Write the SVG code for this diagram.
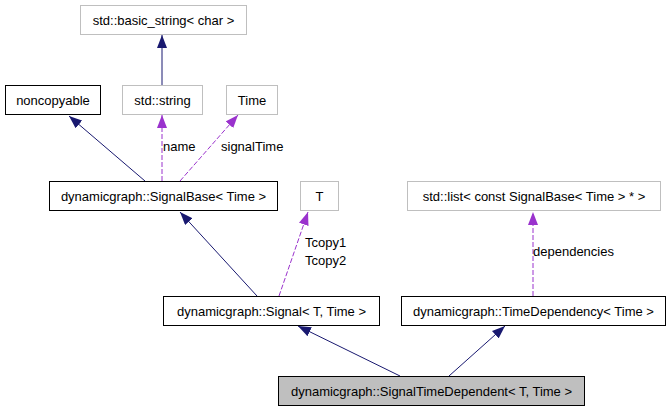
<svg xmlns="http://www.w3.org/2000/svg" width="671" height="411" viewBox="0 0 671 411">
<style>
.n rect{fill:#fff;stroke:#000;stroke-width:1}
.g rect{fill:#fff;stroke:#bfbfbf;stroke-width:1}
.h rect{fill:#bfbfbf;stroke:#000;stroke-width:1}
text{font-family:"Liberation Sans",Arial,sans-serif;font-size:13px;fill:#000}
.c{text-anchor:middle}
.inh{stroke:#191970;stroke-width:1;fill:none}
.use{stroke:#9a32cd;stroke-width:1;fill:none;stroke-dasharray:5,2}
</style>
<defs>
<marker id="ai" viewBox="0 0 13 10" refX="13" refY="5" markerWidth="13" markerHeight="10" markerUnits="userSpaceOnUse" orient="auto"><path d="M0,0L13,5L0,10z" fill="#191970"/></marker>
<marker id="au" viewBox="0 0 13 10" refX="13" refY="5" markerWidth="13" markerHeight="10" markerUnits="userSpaceOnUse" orient="auto"><path d="M0,0L13,5L0,10z" fill="#9a32cd"/></marker>
</defs>
<rect width="671" height="411" fill="#fff"/>
<g id="edges">
<line class="inh" x1="162" y1="86" x2="162" y2="35" marker-end="url(#ai)"/>
<line class="inh" x1="145" y1="181" x2="69" y2="116" marker-end="url(#ai)"/>
<line class="use" x1="162" y1="181" x2="162" y2="115" marker-end="url(#au)"/>
<line class="use" x1="180" y1="181" x2="238" y2="115" marker-end="url(#au)"/>
<line class="inh" x1="257" y1="296" x2="180" y2="212" marker-end="url(#ai)"/>
<line class="use" x1="279" y1="296" x2="308" y2="212" marker-end="url(#au)"/>
<line class="inh" x1="400" y1="376" x2="298" y2="326" marker-end="url(#ai)"/>
<line class="inh" x1="449" y1="376" x2="505" y2="326" marker-end="url(#ai)"/>
<line class="use" x1="533" y1="296" x2="533" y2="212" marker-end="url(#au)"/>
<text x="163" y="151">name</text>
<text x="221" y="151">signalTime</text>
<text x="305" y="247">Tcopy1</text>
<text x="305" y="265">Tcopy2</text>
<text x="533" y="256">dependencies</text>
</g>
<g id="basic_string" class="g"><rect x="80.5" y="5.5" width="166" height="29"/><text class="c" x="163.5" y="24.5">std::basic_string&lt; char &gt;</text></g>
<g id="noncopyable" class="n"><rect x="5.5" y="85.5" width="95" height="29"/><text class="c" x="53" y="104.5">noncopyable</text></g>
<g id="string" class="g"><rect x="122.5" y="85.5" width="80" height="29"/><text class="c" x="162.5" y="104.5">std::string</text></g>
<g id="Time" class="g"><rect x="226.5" y="85.5" width="51" height="29"/><text class="c" x="252" y="104.5">Time</text></g>
<g id="SignalBase" class="n"><rect x="49.5" y="181.5" width="228" height="29"/><text class="c" x="163.5" y="200.5">dynamicgraph::SignalBase&lt; Time &gt;</text></g>
<g id="T" class="g"><rect x="300.5" y="181.5" width="38" height="29"/><text class="c" x="319.5" y="200.5">T</text></g>
<g id="list" class="g"><rect x="407.5" y="181.5" width="253" height="29"/><text class="c" x="534" y="200.5">std::list&lt; const SignalBase&lt; Time &gt; * &gt;</text></g>
<g id="Signal" class="n"><rect x="163.5" y="296.5" width="216" height="29"/><text class="c" x="271.5" y="315.5">dynamicgraph::Signal&lt; T, Time &gt;</text></g>
<g id="TimeDependency" class="n"><rect x="401.5" y="296.5" width="264" height="29"/><text class="c" x="533.5" y="315.5">dynamicgraph::TimeDependency&lt; Time &gt;</text></g>
<g id="SignalTimeDependent" class="h"><rect x="278.5" y="376.5" width="306" height="29"/><text class="c" x="431.5" y="395.5">dynamicgraph::SignalTimeDependent&lt; T, Time &gt;</text></g>
</svg>
